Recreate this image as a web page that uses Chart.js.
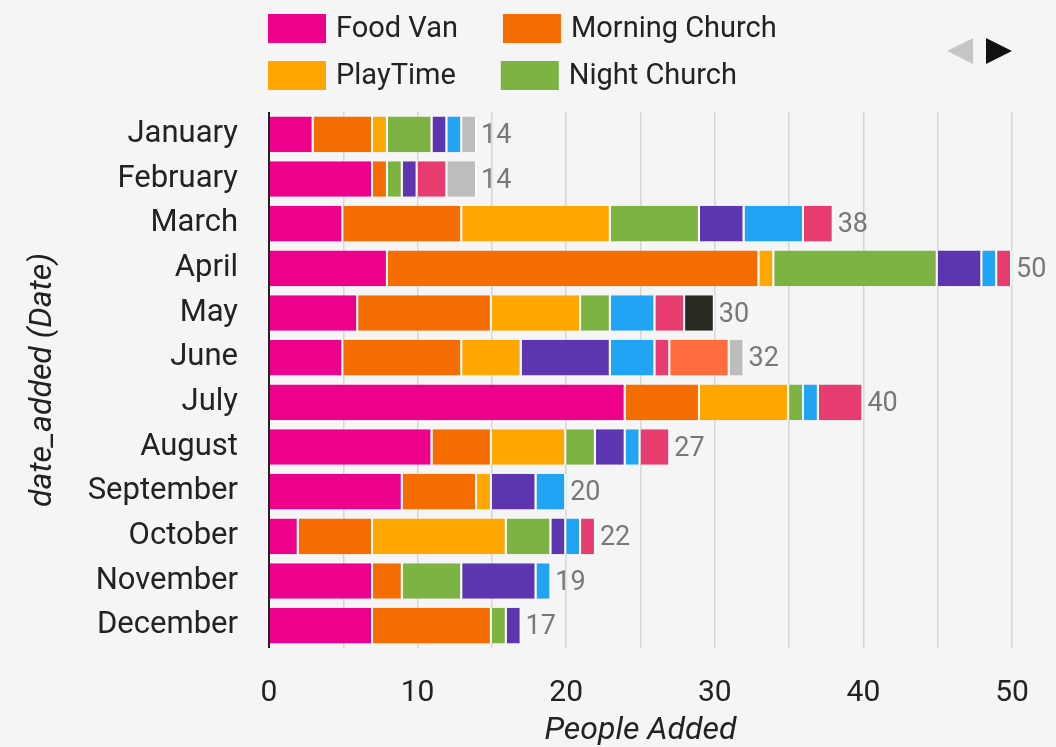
<!DOCTYPE html>
<html>
<head>
<meta charset="utf-8">
<script src="https://cdn.jsdelivr.net/npm/chart.js@4"></script>
<style>
  html, body { margin: 0; padding: 0; background: #f5f5f5; }
  #wrap { width: 1056px; height: 747px; }
</style>
</head>
<body>
<div id="wrap"><canvas id="peopleChart" width="1056" height="747"></canvas></div>
<script>
// ----------------------------
// DATA
// ----------------------------
const months = ["January", "February", "March", "April", "May", "June",
  "July", "August", "September", "October", "November", "December"];

const foodVan       = [3, 7, 5, 8, 6, 5, 24, 11, 9, 2, 7, 7];
const morningChurch = [4, 1, 8, 25, 9, 8, 5, 4, 5, 5, 2, 8];
const playTime      = [1, 0, 10, 1, 6, 4, 6, 5, 1, 9, 0, 0];
const nightChurch   = [3, 1, 6, 11, 2, 0, 1, 2, 0, 3, 4, 1];
const series5       = [1, 1, 3, 3, 0, 6, 0, 2, 3, 1, 5, 1];
const series6       = [1, 0, 4, 1, 3, 3, 1, 1, 2, 1, 1, 0];
const series7       = [0, 2, 2, 1, 2, 1, 3, 2, 0, 1, 0, 0];
const series8       = [0, 0, 0, 0, 2, 0, 0, 0, 0, 0, 0, 0];
const series9       = [0, 0, 0, 0, 0, 4, 0, 0, 0, 0, 0, 0];
const series10      = [1, 2, 0, 0, 0, 1, 0, 0, 0, 0, 0, 0];

const seriesNames  = ["Food Van", "Morning Church", "PlayTime", "Night Church",
  "Series 5", "Series 6", "Series 7", "Series 8", "Series 9", "Series 10"];
const seriesValues = [foodVan, morningChurch, playTime, nightChurch,
  series5, series6, series7, series8, series9, series10];
const seriesColors = ["#ec008c", "#f56c00", "#ffa600", "#7cb342", "#5e35b1",
  "#20a4f3", "#e73c70", "#2b2a22", "#ff6d3f", "#bdbdbd"];

const xTickLabels = [0, 10, 20, 30, 40, 50];

// ----------------------------
// PLUGINS
// ----------------------------
// totals written after each stacked bar
const totalsPlugin = {
  id: "totals",
  afterDatasetsDraw(chart) {
    const { ctx } = chart;
    const xs = chart.scales.x;
    const ys = chart.scales.y;
    ctx.save();
    ctx.font = "27px Roboto";
    ctx.fillStyle = "#787878";
    ctx.textAlign = "left";
    ctx.textBaseline = "middle";
    months.forEach((m, i) => {
      const total = chart.data.datasets.reduce((s, ds) => s + ds.data[i], 0);
      ctx.fillText(String(total), xs.getPixelForValue(total) + 4, ys.getPixelForValue(i) + 2);
    });
    ctx.restore();
  }
};

// first legend page (2 x 2) plus the page arrows
const pagedLegend = {
  id: "pagedLegend",
  afterDraw(chart) {
    const { ctx } = chart;
    ctx.save();
    ctx.font = "29px Roboto";
    ctx.textBaseline = "middle";
    ctx.textAlign = "left";
    [[0, 1], [2, 3]].forEach((row, r) => {
      let x = 268;
      const y = 14 + r * 47;
      row.forEach(i => {
        const ds = chart.data.datasets[i];
        ctx.fillStyle = ds.backgroundColor;
        ctx.fillRect(x, y, 58, 29);
        ctx.fillStyle = "#222";
        ctx.fillText(ds.label, x + 68, y + 16);
        x += 68 + ctx.measureText(ds.label).width + 45;
      });
    });

    ctx.fillStyle = "#c6c6c6";
    ctx.beginPath();
    ctx.moveTo(947, 51);
    ctx.lineTo(973, 38);
    ctx.lineTo(973, 64);
    ctx.closePath();
    ctx.fill();

    ctx.fillStyle = "#111";
    ctx.beginPath();
    ctx.moveTo(1012, 51);
    ctx.lineTo(986, 38);
    ctx.lineTo(986, 64);
    ctx.closePath();
    ctx.fill();
    ctx.restore();
  }
};

// ----------------------------
// CHART
// ----------------------------
new Chart(document.getElementById("peopleChart"), {
  type: "bar",
  data: {
    labels: months,
    datasets: seriesNames.map((name, i) => ({
      label: name,
      data: seriesValues[i],
      backgroundColor: seriesColors[i],
      borderColor: "rgba(255,255,255,0.85)",
      borderWidth: { right: 2 },
      borderSkipped: false,
      barPercentage: 0.8,
      categoryPercentage: 1.0
    }))
  },
  options: {
    indexAxis: "y",
    responsive: false,
    animation: false,
    layout: { padding: { top: 112, right: 44, bottom: 0, left: 0 } },
    plugins: {
      legend: { display: false },
      tooltip: { enabled: false }
    },
    scales: {
      x: {
        stacked: true,
        min: 0,
        max: 50,
        ticks: {
          stepSize: 5,
          autoSkip: false,
          maxRotation: 0,
          padding: 27,
          color: "#222",
          font: { family: "Roboto", size: 30 },
          callback: v => xTickLabels.includes(v) ? v : ""
        },
        grid: {
          drawTicks: false,
          color: ctx => ctx.tick && ctx.tick.value === 0 ? "#222" : "#d6d6d6",
          lineWidth: ctx => ctx.tick && ctx.tick.value === 0 ? 2 : 1.5
        },
        border: { display: false },
        title: {
          display: true,
          text: "People Added",
          color: "#222",
          font: { family: "Roboto", size: 32, style: "italic", lineHeight: 1.0 },
          padding: { top: 0, bottom: 0 }
        },
        afterFit(scale) { scale.height = 99; }
      },
      y: {
        stacked: true,
        ticks: {
          padding: 31,
          color: "#222",
          font: { family: "Roboto", size: 31 }
        },
        grid: { display: false, drawTicks: false },
        border: { display: false },
        title: {
          display: true,
          text: "date_added (Date)",
          color: "#222",
          font: { family: "Roboto", size: 32, style: "italic", lineHeight: 1.2 },
          padding: { top: 24, bottom: 0 }
        },
        afterFit(scale) { scale.width = 269; }
      }
    }
  },
  plugins: [totalsPlugin, pagedLegend]
});
</script>
</body>
</html>
